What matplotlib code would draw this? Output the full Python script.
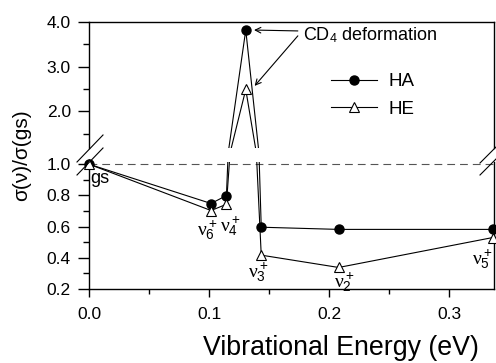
import numpy as np
import matplotlib
matplotlib.use('Agg')
import matplotlib.pyplot as plt
from matplotlib.ticker import MultipleLocator, FormatStrFormatter
from matplotlib.lines import Line2D

plt.rcParams['font.family'] = ['Liberation Sans', 'DejaVu Sans']
plt.rcParams['mathtext.fontset'] = 'custom'
plt.rcParams['mathtext.rm'] = 'Liberation Sans'
plt.rcParams['mathtext.it'] = 'Liberation Serif'

# data
energy = [0.0, 0.1017, 0.1145, 0.1306, 0.1435, 0.208, 0.3365]
ha = [1.0, 0.748, 0.799, 3.82, 0.596, 0.582, 0.582]
he = [1.0, 0.703, 0.743, 2.49, 0.417, 0.338, 0.530]
mode_labels = [r'$\nu_6^+$', r'$\nu_4^+$', r'$\nu_3^+$', r'$\nu_2^+$', r'$\nu_5^+$']
mode_pos = [(0.099, 0.578), (0.1175, 0.604), (0.141, 0.309), (0.213, 0.245), (0.3275, 0.392)]

W, H = 496, 363
fig = plt.figure(figsize=(W / 100, H / 100), dpi=100)

left = 89 / W
width = (493.5 - 89) / W
ax_hi = fig.add_axes([left, 1 - 148 / H, width, (148 - 22) / H])
ax_lo = fig.add_axes([left, 1 - 289 / H, width, (289 - 162) / H])

xmax = 0.337
ax_hi.set_ylim(1.18, 4.0)
ax_lo.set_ylim(0.2, 1.014)

for ax in (ax_hi, ax_lo):
    ax.set_xlim(0, xmax)
    ax.plot(energy, ha, color='black', lw=0.8, zorder=3)
    ax.plot(energy, he, color='black', lw=0.8, zorder=3)
    for s in ax.spines.values():
        s.set_linewidth(1.0)
    ax.tick_params(which='both', direction='out', right=False, top=False,
                   labelsize=12.5, width=1.0)
    ax.tick_params(axis='y', which='major', length=8, pad=5)
    ax.tick_params(axis='y', which='minor', length=4.5)
    ax.yaxis.set_major_formatter(FormatStrFormatter('%.1f'))

# markers only where points sit inside each panel
lo_ha = [(e, v) for e, v in zip(energy, ha) if v <= 1.01]
lo_he = [(e, v) for e, v in zip(energy, he) if v <= 1.01]
hi_ha = [(e, v) for e, v in zip(energy, ha) if v > 1.2]
hi_he = [(e, v) for e, v in zip(energy, he) if v > 1.2]

ax_lo.plot(*zip(*lo_ha), ls='none', marker='o', ms=6.5, mfc='black', mec='black',
           clip_on=False, zorder=4)
ax_lo.plot(*zip(*lo_he), ls='none', marker='^', ms=7, mfc='white', mec='black',
           mew=0.8, clip_on=False, zorder=5)
ax_hi.plot(*zip(*hi_ha), ls='none', marker='o', ms=6.5, mfc='black', mec='black',
           clip_on=False, zorder=4)
ax_hi.plot(*zip(*hi_he), ls='none', marker='^', ms=7, mfc='white', mec='black',
           mew=0.8, clip_on=False, zorder=5)

ax_lo.axhline(1.0, color='#555555', lw=0.8, dashes=(7, 4.5), zorder=2)

# upper panel
ax_hi.spines['bottom'].set_visible(False)
ax_hi.tick_params(axis='x', which='both', bottom=False, labelbottom=False)
ax_hi.set_yticks([2.0, 3.0, 4.0])
ax_hi.set_yticks([1.5, 2.5, 3.5], minor=True)

# lower panel
ax_lo.spines['top'].set_visible(False)
ax_lo.set_yticks([0.2, 0.4, 0.6, 0.8, 1.0])
ax_lo.set_yticks([0.3, 0.5, 0.7, 0.9], minor=True)
ax_lo.xaxis.set_major_locator(MultipleLocator(0.1))
ax_lo.xaxis.set_minor_locator(MultipleLocator(0.05))
ax_lo.xaxis.set_major_formatter(FormatStrFormatter('%.1f'))
ax_lo.tick_params(axis='x', which='major', length=6, pad=7)
ax_lo.tick_params(axis='x', which='minor', length=3.5)

# point labels
ax_lo.text(0.001, 0.91, 'gs', fontsize=13, ha='left', va='center')
for lab, (px, py) in zip(mode_labels, mode_pos):
    ax_lo.text(px, py, lab, fontsize=14, ha='center', va='center')

# CD4 annotation
ax_hi.text(0.178, 3.71, r'CD$_\mathrm{4}$ deformation', fontsize=13, ha='left', va='center')
ax_hi.annotate('', xy=(0.1375, 3.82), xytext=(0.174, 3.80),
               arrowprops=dict(arrowstyle='->', lw=0.8, color='black',
                               shrinkA=0, shrinkB=0))
ax_hi.annotate('', xy=(0.138, 2.57), xytext=(0.174, 3.69),
               arrowprops=dict(arrowstyle='->', lw=0.8, color='black',
                               shrinkA=0, shrinkB=0))

# legend
h1 = Line2D([], [], color='black', lw=0.8, marker='o', ms=6.5, mfc='black')
h2 = Line2D([], [], color='black', lw=0.8, marker='^', ms=7, mfc='white', mew=0.8)
fig.legend([h1, h2], ['HA', 'HE'], loc='center left',
           bbox_to_anchor=(331 / W, 1 - 95.5 / H), frameon=False, fontsize=13.5,
           handlelength=2.45, handletextpad=0.64, labelspacing=0.55,
           borderpad=0, borderaxespad=0)

# axis break marks
def brk(x0, y0, x1, y1):
    fig.add_artist(Line2D([x0 / W, x1 / W], [1 - y0 / H, 1 - y1 / H],
                          color='black', lw=0.8, transform=fig.transFigure))

brk(77, 162, 103, 135)
brk(77, 175, 103, 148)
brk(480, 163, 496, 147)
brk(480, 175, 496, 159)

fig.text(22 / W, 1 - 155 / H, 'σ(ν)/σ(gs)', rotation=90, fontsize=15,
         ha='center', va='center')
fig.text(341 / W, 1 - 348 / H, 'Vibrational Energy (eV)', fontsize=19.3,
         ha='center', va='center')

fig.savefig('out.png', dpi=100)
